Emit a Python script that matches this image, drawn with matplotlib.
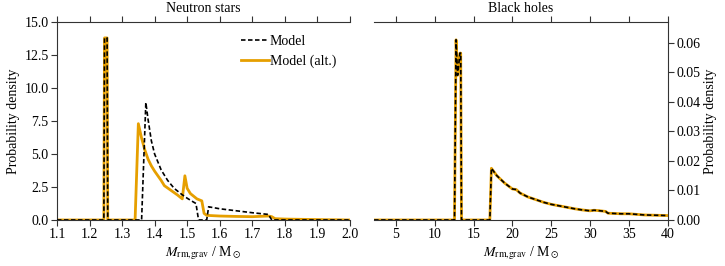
import matplotlib
matplotlib.use("Agg")
import matplotlib.pyplot as plt

plt.rcParams['font.family'] = ['Liberation Serif', 'DejaVu Serif']
plt.rcParams['mathtext.fontset'] = 'stix'
plt.rcParams['font.size'] = 10
plt.rcParams['axes.titlesize'] = 10
plt.rcParams['axes.labelsize'] = 10
plt.rcParams['axes.edgecolor'] = '#333333'
plt.rcParams['xtick.color'] = '#333333'
plt.rcParams['ytick.color'] = '#333333'
plt.rcParams['xtick.labelcolor'] = 'black'
plt.rcParams['ytick.labelcolor'] = 'black'
plt.rcParams['xtick.major.size'] = 4
plt.rcParams['ytick.major.size'] = 4

# Neutron stars: model (dashed black)
ns_model_x = [1.10, 1.244, 1.246, 1.254, 1.256, 1.360, 1.373, 1.38, 1.39, 1.40, 1.42, 1.44, 1.46,
              1.48, 1.50, 1.52, 1.527, 1.535, 1.560, 1.566, 1.60, 1.65, 1.70, 1.75, 1.755, 1.76, 2.00]
ns_model_y = [0.0, 0.0, 13.8, 13.8, 0.0, 0.0, 8.9, 7.6, 6.0, 5.0, 3.8, 3.0, 2.4,
              2.0, 1.65, 1.35, 1.25, 0.0, 0.0, 1.0, 0.85, 0.7, 0.55, 0.42, 0.2, 0.0, 0.0]
# Neutron stars: model (alt.) (solid orange)
ns_alt_x = [1.10, 1.244, 1.246, 1.254, 1.256, 1.340, 1.350, 1.36, 1.37, 1.38, 1.39, 1.40, 1.42,
            1.43, 1.45, 1.47, 1.485, 1.493, 1.50, 1.51, 1.52, 1.53, 1.545, 1.552, 1.56, 1.60,
            1.65, 1.70, 1.75, 1.76, 1.77, 1.80, 1.85, 1.90, 1.97, 2.00]
ns_alt_y = [0.0, 0.0, 13.8, 13.8, 0.0, 0.0, 7.3, 6.2, 5.3, 4.6, 4.1, 3.7, 3.0,
            2.6, 2.25, 1.9, 1.6, 3.35, 2.4, 2.0, 1.8, 1.6, 1.45, 0.5, 0.35, 0.3,
            0.27, 0.25, 0.3, 0.25, 0.1, 0.07, 0.05, 0.03, 0.01, 0.0]

# Black holes: both models identical
bh_x = [2.2, 12.55, 12.75, 12.95, 13.25, 13.35, 13.45, 17.10, 17.30, 18.0, 19.0, 20.0, 20.5,
        21.0, 22.0, 23.0, 24.0, 25.0, 26.0, 27.0, 28.0, 29.0, 30.0, 30.5, 31.0, 32.0,
        32.3, 34.0, 35.0, 37.0, 40.0]
bh_y = [0.0, 0.0, 0.061, 0.049, 0.0565, 0.0565, 0.0, 0.0, 0.0175, 0.015, 0.0125, 0.0105, 0.0103,
        0.0091, 0.0078, 0.0069, 0.006, 0.0053, 0.0048, 0.0043, 0.0038, 0.0034, 0.0031, 0.0033,
        0.0032, 0.0029, 0.0023, 0.0021, 0.0021, 0.0017, 0.0015]

orange = '#E69F00'
dash = (0, (2.7, 1.5))
xlabel = r'$M_\mathrm{rm{,}grav}$ / M$_\odot$'

fig = plt.figure(figsize=(7.25, 2.66), dpi=100)
ax1 = fig.add_axes([0.0786, 0.173, 0.404, 0.744])
ax2 = fig.add_axes([0.516, 0.173, 0.405, 0.744])

ax1.plot(ns_model_x, ns_model_y, color='black', ls=dash, lw=1.2, label='Model', zorder=3)
ax1.plot(ns_alt_x, ns_alt_y, color=orange, lw=2.0, label='Model (alt.)', zorder=2)
ax1.set_xlim(1.1, 2.0)
ax1.set_ylim(0, 15)
ax1.set_xticks([1.1, 1.2, 1.3, 1.4, 1.5, 1.6, 1.7, 1.8, 1.9, 2.0])
ax1.set_yticks([0, 2.5, 5, 7.5, 10, 12.5, 15])
ax1.set_yticklabels(['0.0', '2.5', '5.0', '7.5', '10.0', '12.5', '15.0'])
ax1.spines['right'].set_visible(False)
ax1.tick_params(direction='out', top=True, right=False, labeltop=False, pad=2)
ax1.set_ylabel('Probability density', labelpad=3)
ax1.set_xlabel(xlabel, labelpad=2)
ax1.set_title('Neutron stars', pad=7)
leg = ax1.legend(loc='upper left', frameon=False, bbox_to_anchor=(0.585, 1.0),
                 handlelength=2.0, handletextpad=0.1)

ax2.plot(bh_x, bh_y, color=orange, lw=2.0, zorder=2)
ax2.plot(bh_x, bh_y, color='black', ls=dash, lw=1.2, zorder=3)
ax2.set_xlim(2.2, 40)
ax2.set_ylim(0, 0.067)
ax2.set_xticks([5, 10, 15, 20, 25, 30, 35, 40])
ax2.set_yticks([0, 0.01, 0.02, 0.03, 0.04, 0.05, 0.06])
ax2.set_yticklabels(['0.00', '0.01', '0.02', '0.03', '0.04', '0.05', '0.06'])
ax2.spines['left'].set_visible(False)
ax2.yaxis.tick_right()
ax2.yaxis.set_label_position('right')
ax2.tick_params(direction='out', top=True, left=False, labeltop=False, pad=2)
ax2.set_ylabel('Probability density', labelpad=3)
ax2.set_xlabel(xlabel, labelpad=2)
ax2.set_title('Black holes', pad=7)

fig.savefig('out.png', dpi=100)
